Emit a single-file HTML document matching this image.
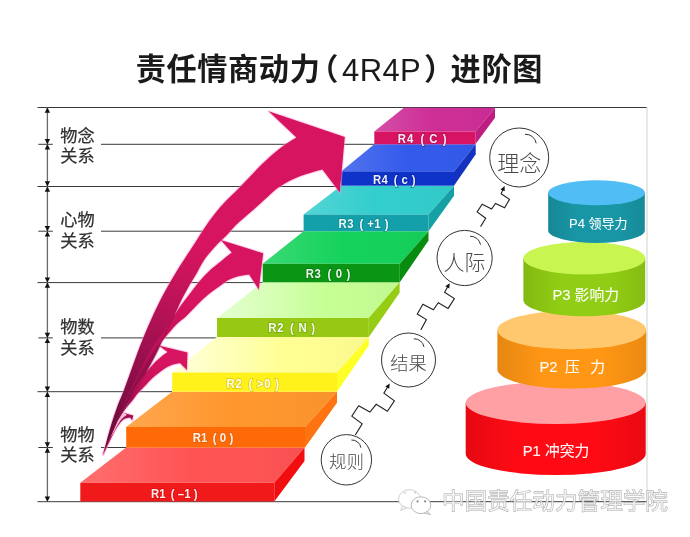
<!DOCTYPE html>
<html lang="zh-CN">
<head>
<meta charset="utf-8">
<title>责任情商动力（4R4P）进阶图</title>
<style>
html,body{margin:0;padding:0;background:#fff;}
body{width:690px;height:537px;overflow:hidden;font-family:'Liberation Sans','Noto Sans CJK SC',sans-serif;}
svg{display:block;will-change:transform;}
svg text{font-family:'Liberation Sans','Noto Sans CJK SC',sans-serif;}
</style>
</head>
<body>
<svg width="690" height="537" viewBox="0 0 690 537">
<rect width="690" height="537" fill="#fff"/>
<defs>
<linearGradient id="ag1" gradientUnits="userSpaceOnUse" x1="103" y1="455" x2="215" y2="215">
<stop offset="0" stop-color="#5e0a34"/><stop offset="0.3" stop-color="#8a0e49"/><stop offset="0.6" stop-color="#b81257"/><stop offset="0.85" stop-color="#d6145f"/><stop offset="1" stop-color="#d6145f"/>
</linearGradient>
<linearGradient id="ag2" gradientUnits="userSpaceOnUse" x1="103" y1="455" x2="200" y2="285">
<stop offset="0" stop-color="#5e0a34"/><stop offset="0.3" stop-color="#8e0f4b"/><stop offset="0.65" stop-color="#c01258"/><stop offset="0.9" stop-color="#d6145f"/><stop offset="1" stop-color="#d6145f"/>
</linearGradient>
<linearGradient id="ag3" gradientUnits="userSpaceOnUse" x1="103" y1="455" x2="160" y2="362">
<stop offset="0" stop-color="#5e0a34"/><stop offset="0.35" stop-color="#8e0f4b"/><stop offset="0.75" stop-color="#c41359"/><stop offset="1" stop-color="#d6145f"/>
</linearGradient>
<linearGradient id="tg3" gradientUnits="userSpaceOnUse" x1="185" y1="0" x2="290" y2="0">
<stop offset="0" stop-color="#ffffcc"/><stop offset="1" stop-color="#ffff92"/>
</linearGradient>
<linearGradient id="tg4" gradientUnits="userSpaceOnUse" x1="230" y1="0" x2="330" y2="0">
<stop offset="0" stop-color="#dcffc2"/><stop offset="1" stop-color="#c6ff94"/>
</linearGradient>
<linearGradient id="wl" x1="0" y1="0" x2="1" y2="0">
<stop offset="0" stop-color="#fff" stop-opacity="0.16"/><stop offset="0.5" stop-color="#fff" stop-opacity="0"/><stop offset="1" stop-color="#000" stop-opacity="0.03"/>
</linearGradient>
<linearGradient id="cg" x1="0" y1="0" x2="1" y2="0">
<stop offset="0" stop-color="#000" stop-opacity="0.10"/><stop offset="0.3" stop-color="#000" stop-opacity="0"/><stop offset="0.7" stop-color="#000" stop-opacity="0"/><stop offset="1" stop-color="#000" stop-opacity="0.08"/>
</linearGradient>
</defs>
<line x1="37.5" y1="107.5" x2="647" y2="107.5" stroke="#3a3a3a" stroke-width="1"/>
<line x1="37.5" y1="186.5" x2="341.1" y2="186.5" stroke="#3a3a3a" stroke-width="1"/>
<line x1="37.5" y1="282.6" x2="262.7" y2="282.6" stroke="#3a3a3a" stroke-width="1"/>
<line x1="37.5" y1="391.7" x2="172.2" y2="391.7" stroke="#3a3a3a" stroke-width="1"/>
<line x1="37.5" y1="501.7" x2="647" y2="501.7" stroke="#3a3a3a" stroke-width="1"/>
<line x1="101" y1="144.3" x2="374.3" y2="144.3" stroke="#3a3a3a" stroke-width="1"/>
<line x1="38.3" y1="144.3" x2="52.8" y2="144.3" stroke="#3a3a3a" stroke-width="1"/>
<line x1="101" y1="231.2" x2="303.6" y2="231.2" stroke="#3a3a3a" stroke-width="1"/>
<line x1="38.3" y1="231.2" x2="52.8" y2="231.2" stroke="#3a3a3a" stroke-width="1"/>
<line x1="101" y1="337.9" x2="217" y2="337.9" stroke="#3a3a3a" stroke-width="1"/>
<line x1="38.3" y1="337.9" x2="52.8" y2="337.9" stroke="#3a3a3a" stroke-width="1"/>
<line x1="101" y1="447.5" x2="126.2" y2="447.5" stroke="#3a3a3a" stroke-width="1"/>
<line x1="38.3" y1="447.5" x2="52.8" y2="447.5" stroke="#3a3a3a" stroke-width="1"/>
<line x1="647" y1="107" x2="647" y2="502" stroke="#c9d6c4" stroke-width="1"/>
<line x1="47.4" y1="107.5" x2="47.4" y2="501.7" stroke="#6a6a6a" stroke-width="1.3"/>
<polygon points="47.4,107.5 44.699999999999996,112.7 50.1,112.7" fill="#111"/>
<polygon points="47.4,144.3 44.699999999999996,139.10000000000002 50.1,139.10000000000002" fill="#111"/>
<polygon points="47.4,144.3 44.699999999999996,149.5 50.1,149.5" fill="#111"/>
<polygon points="47.4,186.5 44.699999999999996,181.3 50.1,181.3" fill="#111"/>
<polygon points="47.4,186.5 44.699999999999996,191.7 50.1,191.7" fill="#111"/>
<polygon points="47.4,231.2 44.699999999999996,226.0 50.1,226.0" fill="#111"/>
<polygon points="47.4,231.2 44.699999999999996,236.39999999999998 50.1,236.39999999999998" fill="#111"/>
<polygon points="47.4,282.6 44.699999999999996,277.40000000000003 50.1,277.40000000000003" fill="#111"/>
<polygon points="47.4,282.6 44.699999999999996,287.8 50.1,287.8" fill="#111"/>
<polygon points="47.4,337.9 44.699999999999996,332.7 50.1,332.7" fill="#111"/>
<polygon points="47.4,337.9 44.699999999999996,343.09999999999997 50.1,343.09999999999997" fill="#111"/>
<polygon points="47.4,391.7 44.699999999999996,386.5 50.1,386.5" fill="#111"/>
<polygon points="47.4,391.7 44.699999999999996,396.9 50.1,396.9" fill="#111"/>
<polygon points="47.4,447.5 44.699999999999996,442.3 50.1,442.3" fill="#111"/>
<polygon points="47.4,447.5 44.699999999999996,452.7 50.1,452.7" fill="#111"/>
<polygon points="47.4,501.7 44.699999999999996,496.5 50.1,496.5" fill="#111"/>
<polygon points="80.3,482.8 126.2,447.6 304.5,447.6 274.3,482.8" fill="#ff5353"/>
<polygon points="80.3,482.8 126.2,447.6 304.5,447.6 274.3,482.8" fill="url(#wl)"/>
<polygon points="274.3,482.8 304.5,447.6 304.5,461.1 274.3,501.5" fill="#f20d10"/>
<rect x="80.3" y="482.8" width="194.0" height="18.7" fill="#f01a1a"/>
<polygon points="126.2,427.0 172.2,391.7 337.0,391.7 305.0,427.0" fill="#ff962d"/>
<polygon points="126.2,427.0 172.2,391.7 337.0,391.7 305.0,427.0" fill="url(#wl)"/>
<polygon points="305.0,427.0 337.0,391.7 337.0,402.7 305.0,447.6" fill="#ff7410"/>
<rect x="126.2" y="427.0" width="178.8" height="20.6" fill="#ff6a08"/>
<polygon points="172.2,372.5 217.0,337.0 368.8,337.0 337.0,372.5" fill="url(#tg3)"/>
<polygon points="172.2,372.5 217.0,337.0 368.8,337.0 337.0,372.5" fill="url(#wl)"/>
<polygon points="337.0,372.5 368.8,337.0 368.8,345.5 337.0,391.7" fill="#ffff28"/>
<rect x="172.2" y="372.5" width="164.8" height="19.2" fill="#fff21a"/>
<polygon points="217.0,318.0 262.7,282.3 399.6,282.3 368.8,318.0" fill="url(#tg4)"/>
<polygon points="217.0,318.0 262.7,282.3 399.6,282.3 368.8,318.0" fill="url(#wl)"/>
<polygon points="368.8,318.0 399.6,282.3 399.6,292.7 368.8,337.0" fill="#96cd14"/>
<rect x="217.0" y="318.0" width="151.8" height="19.0" fill="#96c814"/>
<polygon points="262.7,263.8 303.6,231.2 428.5,231.2 399.8,263.8" fill="#14d25a"/>
<polygon points="262.7,263.8 303.6,231.2 428.5,231.2 399.8,263.8" fill="url(#wl)"/>
<polygon points="399.8,263.8 428.5,231.2 428.5,240.5 399.8,282.3" fill="#088c10"/>
<rect x="262.7" y="263.8" width="137.1" height="18.5" fill="#0a9614"/>
<polygon points="303.6,214.5 341.1,185.7 454.0,185.7 428.5,214.5" fill="#32cdcd"/>
<polygon points="303.6,214.5 341.1,185.7 454.0,185.7 428.5,214.5" fill="url(#wl)"/>
<polygon points="428.5,214.5 454.0,185.7 454.0,195.7 428.5,231.2" fill="#14a0a5"/>
<rect x="303.6" y="214.5" width="124.9" height="16.7" fill="#14a0aa"/>
<polygon points="341.1,171.4 374.3,144.3 475.7,144.3 454.0,171.4" fill="#325aeb"/>
<polygon points="341.1,171.4 374.3,144.3 475.7,144.3 454.0,171.4" fill="url(#wl)"/>
<polygon points="454.0,171.4 475.7,144.3 475.7,154.3 454.0,185.7" fill="#1432be"/>
<rect x="341.1" y="171.4" width="112.9" height="14.3" fill="#0f32c8"/>
<polygon points="374.3,131.5 403.9,107.8 495.0,107.8 475.4,131.5" fill="#cd2d96"/>
<polygon points="374.3,131.5 403.9,107.8 495.0,107.8 475.4,131.5" fill="url(#wl)"/>
<polygon points="475.4,131.5 495.0,107.8 495.0,117.8 475.4,144.3" fill="#be1e82"/>
<rect x="374.3" y="131.5" width="101.1" height="12.8" fill="#d71464"/>
<text transform="translate(150.9,497.8) scale(1,1.13)" textLength="46.7" lengthAdjust="spacing" font-size="11.4" font-weight="bold" fill="#fff" fill-opacity="0.93" stroke="#c80000" stroke-opacity="0.35" stroke-width="1.6" paint-order="stroke">R1<tspan dx="2"> ( –1 )</tspan></text>
<text transform="translate(192.7,442.1) scale(1,1.13)" textLength="40.6" lengthAdjust="spacing" font-size="11.4" font-weight="bold" fill="#fff" fill-opacity="0.93" stroke="#c85000" stroke-opacity="0.35" stroke-width="1.6" paint-order="stroke">R1<tspan dx="2"> ( 0 )</tspan></text>
<text transform="translate(226.6,387.6) scale(1,1.13)" textLength="52.4" lengthAdjust="spacing" font-size="11.4" font-weight="bold" fill="#fff" fill-opacity="0.93" stroke="#b09000" stroke-opacity="0.35" stroke-width="1.6" paint-order="stroke">R2<tspan dx="2"> ( &gt;0 )</tspan></text>
<text transform="translate(268.3,332.2) scale(1,1.13)" textLength="46.7" lengthAdjust="spacing" font-size="11.4" font-weight="bold" fill="#fff" fill-opacity="0.93" stroke="#5a8000" stroke-opacity="0.35" stroke-width="1.6" paint-order="stroke">R2<tspan dx="2"> ( N )</tspan></text>
<text transform="translate(305.7,278.2) scale(1,1.13)" textLength="44.6" lengthAdjust="spacing" font-size="11.4" font-weight="bold" fill="#fff" fill-opacity="0.93" stroke="#005a00" stroke-opacity="0.35" stroke-width="1.6" paint-order="stroke">R3<tspan dx="2"> ( 0 )</tspan></text>
<text transform="translate(338.5,227.6) scale(1,1.13)" textLength="50.0" lengthAdjust="spacing" font-size="11.4" font-weight="bold" fill="#fff" fill-opacity="0.93" stroke="#006a70" stroke-opacity="0.35" stroke-width="1.6" paint-order="stroke">R3<tspan dx="2"> ( +1 )</tspan></text>
<text transform="translate(372.9,183.9) scale(1,1.13)" textLength="42.6" lengthAdjust="spacing" font-size="11.4" font-weight="bold" fill="#fff" fill-opacity="0.93" stroke="#001080" stroke-opacity="0.35" stroke-width="1.6" paint-order="stroke">R4<tspan dx="2"> ( c )</tspan></text>
<text transform="translate(397.7,142.7) scale(1,1.13)" textLength="48.8" lengthAdjust="spacing" font-size="11.4" font-weight="bold" fill="#fff" fill-opacity="0.93" stroke="#80003a" stroke-opacity="0.35" stroke-width="1.6" paint-order="stroke">R4<tspan dx="2"> ( C )</tspan></text>
<path d="M103.2,454.3 C104.0,451.4 106.1,443.0 107.7,437.1 C109.3,431.2 111.2,424.5 113.0,419.0 C114.8,413.5 116.5,408.6 118.2,404.0 C119.9,399.4 121.2,397.0 123.3,391.7 C125.3,386.4 128.2,378.3 130.5,372.0 C132.8,365.7 134.9,359.7 137.0,354.0 C139.1,348.3 140.8,343.8 143.2,337.9 C145.6,332.0 148.9,324.6 151.5,318.8 C154.1,313.0 156.4,308.0 159.0,302.8 C161.6,297.6 164.1,293.0 167.0,287.8 C169.9,282.6 172.9,277.3 176.2,271.9 C179.5,266.4 183.5,260.6 187.0,255.1 C190.5,249.7 194.7,243.2 197.3,239.2 C199.9,235.2 200.0,234.7 202.4,231.2 C204.8,227.7 208.0,222.6 211.5,218.0 C215.0,213.4 218.7,208.8 223.5,203.6 C228.3,198.3 234.2,193.0 240.5,186.5 C246.8,180.0 255.0,170.9 261.5,164.6 C268.0,158.3 273.7,153.2 279.5,148.7 C285.3,144.2 293.6,139.4 296.4,137.6 L268.6,111.2 L344.8,137.0 L339.8,192.6 L322.4,169.6 L322.4,169.6 C318.7,170.7 307.1,173.5 300.0,176.3 C292.9,179.1 285.5,183.0 280.0,186.5 C274.5,190.0 271.7,193.3 267.0,197.4 C262.3,201.5 257.2,206.4 252.0,211.0 C246.8,215.6 240.2,220.9 236.0,225.0 C231.8,229.1 229.9,232.1 226.5,235.6 C223.1,239.1 219.2,242.2 215.5,246.2 C211.8,250.2 207.8,254.8 204.5,259.5 C201.2,264.2 198.7,269.9 196.0,274.5 C193.3,279.1 191.0,282.5 188.5,286.9 C186.0,291.3 183.3,296.4 181.0,301.1 C178.7,305.8 177.0,310.1 174.5,315.2 C172.0,320.3 169.1,325.5 166.0,332.0 C162.9,338.5 159.7,346.7 156.0,354.0 C152.3,361.3 148.2,368.7 144.0,376.0 C139.8,383.3 135.2,391.0 131.0,398.0 C126.8,405.0 122.3,411.8 119.0,418.0 C115.7,424.2 113.6,428.9 111.0,435.0 C108.4,441.1 104.5,451.1 103.2,454.3 Z" fill="none" stroke="#ff9ad0" stroke-opacity="0.45" stroke-width="2.2" stroke-linejoin="round"/>
<path d="M103.2,454.3 C104.7,450.4 108.9,438.9 112.0,431.0 C115.1,423.1 118.2,415.5 122.0,407.0 C125.8,398.5 130.3,389.3 135.0,380.0 C139.7,370.7 145.5,358.7 150.0,351.0 C154.5,343.3 158.3,339.4 162.0,334.0 C165.7,328.6 168.8,323.7 172.0,318.8 C175.2,313.9 178.3,309.0 181.5,304.6 C184.7,300.2 187.9,296.2 191.0,292.2 C194.1,288.2 196.7,284.5 200.0,280.7 C203.3,276.9 207.3,272.6 211.0,269.2 C214.7,265.8 218.6,263.2 222.0,260.4 C225.4,257.6 230.1,253.7 231.7,252.4 L220.8,240.0 L263.2,253.3 L258.8,289.6 L249.1,274.5 L249.1,274.5 C247.3,274.8 241.8,275.4 238.5,276.3 C235.2,277.2 232.1,278.2 229.0,279.8 C225.9,281.4 223.3,283.6 220.0,286.0 C216.7,288.4 212.8,290.9 209.0,294.0 C205.2,297.1 201.2,300.9 197.5,304.6 C193.8,308.3 189.8,312.9 186.5,316.0 C183.2,319.1 179.9,321.2 177.5,323.5 C175.1,325.8 174.0,327.1 171.9,329.5 C169.8,331.9 167.0,335.2 164.8,337.9 C162.6,340.5 161.2,341.7 158.6,345.4 C156.0,349.1 152.5,354.1 149.0,360.0 C145.5,365.9 141.3,373.7 137.5,381.0 C133.7,388.3 129.2,397.5 126.0,404.0 C122.8,410.5 120.6,414.5 118.0,420.0 C115.4,425.5 113.0,431.3 110.5,437.0 C108.0,442.7 104.4,451.4 103.2,454.3 Z" fill="none" stroke="#ff9ad0" stroke-opacity="0.45" stroke-width="2.2" stroke-linejoin="round"/>
<path d="M103.2,454.3 C104.3,451.4 107.5,442.9 110.0,437.0 C112.5,431.1 115.0,424.5 118.0,419.0 C121.0,413.5 125.2,408.4 127.7,403.8 C130.2,399.2 131.1,395.2 133.0,391.4 C134.9,387.6 137.0,384.6 139.3,381.2 C141.6,377.8 144.4,374.2 146.8,371.2 C149.2,368.2 151.6,365.7 153.8,363.4 C156.1,361.1 158.0,359.3 160.3,357.4 C162.6,355.5 166.3,353.0 167.5,352.1 L158.6,345.4 L187.5,352.5 L186.9,370.1 L179.9,363.1 L179.9,363.1 C178.3,363.5 173.2,364.4 170.1,365.7 C167.0,367.0 164.2,368.9 161.3,371.0 C158.4,373.1 155.2,375.6 152.5,378.1 C149.8,380.6 147.4,383.5 145.0,386.0 C142.6,388.5 140.3,390.6 138.2,393.0 C136.1,395.4 134.4,398.2 132.5,400.5 C130.6,402.8 128.8,404.8 127.0,407.0 C125.2,409.2 123.6,411.2 122.0,413.5 C120.4,415.8 118.9,418.2 117.5,421.0 C116.1,423.8 114.9,426.8 113.5,430.0 C112.1,433.2 110.7,435.9 109.0,440.0 C107.3,444.1 104.2,451.9 103.2,454.3 Z" fill="none" stroke="#ff9ad0" stroke-opacity="0.45" stroke-width="2.2" stroke-linejoin="round"/>
<path d="M103.2,454.3 C104.0,452.2 106.3,445.6 108.0,442.0 C109.7,438.4 111.9,435.4 113.6,432.4 C115.3,429.4 116.6,426.4 118.1,424.0 C119.6,421.6 121.1,419.6 122.6,418.1 C124.1,416.6 126.3,415.4 127.0,414.8 L123.3,412.8 L133.2,415.5 L132.2,420.3 L130.0,417.4 L130.0,417.4 C129.1,417.6 126.5,417.8 124.8,418.8 C123.1,419.8 121.5,421.1 119.8,423.2 C118.1,425.3 116.5,428.1 114.6,431.4 C112.7,434.7 110.5,439.4 108.6,443.2 C106.7,447.0 104.1,452.4 103.2,454.3 Z" fill="none" stroke="#ff9ad0" stroke-opacity="0.45" stroke-width="2.2" stroke-linejoin="round"/>
<path d="M103.2,454.3 C104.0,451.4 106.1,443.0 107.7,437.1 C109.3,431.2 111.2,424.5 113.0,419.0 C114.8,413.5 116.5,408.6 118.2,404.0 C119.9,399.4 121.2,397.0 123.3,391.7 C125.3,386.4 128.2,378.3 130.5,372.0 C132.8,365.7 134.9,359.7 137.0,354.0 C139.1,348.3 140.8,343.8 143.2,337.9 C145.6,332.0 148.9,324.6 151.5,318.8 C154.1,313.0 156.4,308.0 159.0,302.8 C161.6,297.6 164.1,293.0 167.0,287.8 C169.9,282.6 172.9,277.3 176.2,271.9 C179.5,266.4 183.5,260.6 187.0,255.1 C190.5,249.7 194.7,243.2 197.3,239.2 C199.9,235.2 200.0,234.7 202.4,231.2 C204.8,227.7 208.0,222.6 211.5,218.0 C215.0,213.4 218.7,208.8 223.5,203.6 C228.3,198.3 234.2,193.0 240.5,186.5 C246.8,180.0 255.0,170.9 261.5,164.6 C268.0,158.3 273.7,153.2 279.5,148.7 C285.3,144.2 293.6,139.4 296.4,137.6 L268.6,111.2 L344.8,137.0 L339.8,192.6 L322.4,169.6 L322.4,169.6 C318.7,170.7 307.1,173.5 300.0,176.3 C292.9,179.1 285.5,183.0 280.0,186.5 C274.5,190.0 271.7,193.3 267.0,197.4 C262.3,201.5 257.2,206.4 252.0,211.0 C246.8,215.6 240.2,220.9 236.0,225.0 C231.8,229.1 229.9,232.1 226.5,235.6 C223.1,239.1 219.2,242.2 215.5,246.2 C211.8,250.2 207.8,254.8 204.5,259.5 C201.2,264.2 198.7,269.9 196.0,274.5 C193.3,279.1 191.0,282.5 188.5,286.9 C186.0,291.3 183.3,296.4 181.0,301.1 C178.7,305.8 177.0,310.1 174.5,315.2 C172.0,320.3 169.1,325.5 166.0,332.0 C162.9,338.5 159.7,346.7 156.0,354.0 C152.3,361.3 148.2,368.7 144.0,376.0 C139.8,383.3 135.2,391.0 131.0,398.0 C126.8,405.0 122.3,411.8 119.0,418.0 C115.7,424.2 113.6,428.9 111.0,435.0 C108.4,441.1 104.5,451.1 103.2,454.3 Z" fill="url(#ag1)"/>
<path d="M103.2,454.3 C104.7,450.4 108.9,438.9 112.0,431.0 C115.1,423.1 118.2,415.5 122.0,407.0 C125.8,398.5 130.3,389.3 135.0,380.0 C139.7,370.7 145.5,358.7 150.0,351.0 C154.5,343.3 158.3,339.4 162.0,334.0 C165.7,328.6 168.8,323.7 172.0,318.8 C175.2,313.9 178.3,309.0 181.5,304.6 C184.7,300.2 187.9,296.2 191.0,292.2 C194.1,288.2 196.7,284.5 200.0,280.7 C203.3,276.9 207.3,272.6 211.0,269.2 C214.7,265.8 218.6,263.2 222.0,260.4 C225.4,257.6 230.1,253.7 231.7,252.4 L220.8,240.0 L263.2,253.3 L258.8,289.6 L249.1,274.5 L249.1,274.5 C247.3,274.8 241.8,275.4 238.5,276.3 C235.2,277.2 232.1,278.2 229.0,279.8 C225.9,281.4 223.3,283.6 220.0,286.0 C216.7,288.4 212.8,290.9 209.0,294.0 C205.2,297.1 201.2,300.9 197.5,304.6 C193.8,308.3 189.8,312.9 186.5,316.0 C183.2,319.1 179.9,321.2 177.5,323.5 C175.1,325.8 174.0,327.1 171.9,329.5 C169.8,331.9 167.0,335.2 164.8,337.9 C162.6,340.5 161.2,341.7 158.6,345.4 C156.0,349.1 152.5,354.1 149.0,360.0 C145.5,365.9 141.3,373.7 137.5,381.0 C133.7,388.3 129.2,397.5 126.0,404.0 C122.8,410.5 120.6,414.5 118.0,420.0 C115.4,425.5 113.0,431.3 110.5,437.0 C108.0,442.7 104.4,451.4 103.2,454.3 Z" fill="url(#ag2)"/>
<path d="M103.2,454.3 C104.3,451.4 107.5,442.9 110.0,437.0 C112.5,431.1 115.0,424.5 118.0,419.0 C121.0,413.5 125.2,408.4 127.7,403.8 C130.2,399.2 131.1,395.2 133.0,391.4 C134.9,387.6 137.0,384.6 139.3,381.2 C141.6,377.8 144.4,374.2 146.8,371.2 C149.2,368.2 151.6,365.7 153.8,363.4 C156.1,361.1 158.0,359.3 160.3,357.4 C162.6,355.5 166.3,353.0 167.5,352.1 L158.6,345.4 L187.5,352.5 L186.9,370.1 L179.9,363.1 L179.9,363.1 C178.3,363.5 173.2,364.4 170.1,365.7 C167.0,367.0 164.2,368.9 161.3,371.0 C158.4,373.1 155.2,375.6 152.5,378.1 C149.8,380.6 147.4,383.5 145.0,386.0 C142.6,388.5 140.3,390.6 138.2,393.0 C136.1,395.4 134.4,398.2 132.5,400.5 C130.6,402.8 128.8,404.8 127.0,407.0 C125.2,409.2 123.6,411.2 122.0,413.5 C120.4,415.8 118.9,418.2 117.5,421.0 C116.1,423.8 114.9,426.8 113.5,430.0 C112.1,433.2 110.7,435.9 109.0,440.0 C107.3,444.1 104.2,451.9 103.2,454.3 Z" fill="url(#ag3)"/>
<path d="M103.2,454.3 C104.0,452.2 106.3,445.6 108.0,442.0 C109.7,438.4 111.9,435.4 113.6,432.4 C115.3,429.4 116.6,426.4 118.1,424.0 C119.6,421.6 121.1,419.6 122.6,418.1 C124.1,416.6 126.3,415.4 127.0,414.8 L123.3,412.8 L133.2,415.5 L132.2,420.3 L130.0,417.4 L130.0,417.4 C129.1,417.6 126.5,417.8 124.8,418.8 C123.1,419.8 121.5,421.1 119.8,423.2 C118.1,425.3 116.5,428.1 114.6,431.4 C112.7,434.7 110.5,439.4 108.6,443.2 C106.7,447.0 104.1,452.4 103.2,454.3 Z" fill="#a01050"/>
<path d="M122.4,414 L126.2,415 L122.2,417.6 L118.4,422.4 L116.2,425 L118.6,419.4 Z" fill="#f3b6d3"/>
<path d="M174.5,315.2 C173.1,318.0 169.1,325.5 166.0,332.0 C162.9,338.5 159.7,346.7 156.0,354.0 C152.3,361.3 148.2,368.7 144.0,376.0 C139.8,383.3 135.2,391.0 131.0,398.0 C126.8,405.0 121.0,414.7 119.0,418.0" fill="none" stroke="#7d0d44" stroke-opacity="0.35" stroke-width="1.4"/>
<path d="M158.6,345.4 C157.0,347.8 152.5,354.1 149.0,360.0 C145.5,365.9 141.3,373.7 137.5,381.0 C133.7,388.3 129.2,397.5 126.0,404.0 C122.8,410.5 119.3,417.3 118.0,420.0" fill="none" stroke="#7d0d44" stroke-opacity="0.3" stroke-width="1.2"/>
<circle cx="346.4" cy="459.8" r="25.2" fill="#fff" stroke="#333" stroke-width="1"/>
<path d="M351.4,440.0 A9.1,9.1 0 0 1 360.9,447.7" fill="none" stroke="#333" stroke-width="1"/>
<text x="346.4" y="467.8" text-anchor="middle" font-size="17.5" font-weight="300" fill="#4a4a4a">规则</text>
<circle cx="408.5" cy="360" r="27" fill="#fff" stroke="#333" stroke-width="1"/>
<path d="M413.8,338.8 A9.8,9.8 0 0 1 424.0,347.0" fill="none" stroke="#333" stroke-width="1"/>
<text x="408.5" y="369.8" text-anchor="middle" font-size="18.3" font-weight="300" fill="#4a4a4a">结果</text>
<circle cx="464.6" cy="258" r="27.6" fill="#fff" stroke="#333" stroke-width="1"/>
<path d="M470.1,236.3 A10.0,10.0 0 0 1 480.5,244.7" fill="none" stroke="#333" stroke-width="1"/>
<text x="464.6" y="270.2" text-anchor="middle" font-size="21" font-weight="300" fill="#4a4a4a">人际</text>
<circle cx="519.2" cy="157.5" r="29.5" fill="#fff" stroke="#333" stroke-width="1"/>
<path d="M525.0,134.3 A10.7,10.7 0 0 1 536.2,143.3" fill="none" stroke="#333" stroke-width="1"/>
<text x="519.2" y="171" text-anchor="middle" font-size="22" font-weight="300" fill="#4a4a4a">理念</text>
<polyline points="355.3,435.0 362.2,423.9 351.8,416.2 358.7,405.7 369.9,412.0 376.2,404.3 387.4,411.3 394.4,400.8 383.9,393.2 388.6,385.3" fill="none" stroke="#222" stroke-width="1.1" stroke-linejoin="miter"/>
<polygon points="389.7,383.4 389.2,388.7 385.3,386.4" fill="#111"/>
<polyline points="420.8,330.0 426.4,319.6 417.3,314.0 422.9,304.2 433.4,309.8 438.3,302.8 448.1,308.4 454.4,298.6 444.6,292.3 448.6,285.2" fill="none" stroke="#222" stroke-width="1.1" stroke-linejoin="miter"/>
<polygon points="449.7,283.3 449.3,288.6 445.3,286.3" fill="#111"/>
<polyline points="480.6,226.6 485.7,218.2 477.1,211.9 482.2,204.2 491.6,209.1 495.5,203.5 504.6,207.7 509.5,199.3 501.1,193.7 503.7,188.0" fill="none" stroke="#222" stroke-width="1.1" stroke-linejoin="miter"/>
<polygon points="504.6,186.0 504.7,191.3 500.5,189.4" fill="#111"/>
<path d="M465.70000000000005,402.8 L465.70000000000005,453.8 A90,21.2 0 0 0 645.7,453.8 L645.7,402.8 Z" fill="#ff0a14"/>
<path d="M465.70000000000005,402.8 L465.70000000000005,453.8 A90,21.2 0 0 0 645.7,453.8 L645.7,402.8 Z" fill="url(#cg)"/>
<ellipse cx="555.7" cy="402.8" rx="90" ry="21.2" fill="#ffa0a5"/>
<text x="556" y="456.3" text-anchor="middle" font-size="14.8" fill="#fff" fill-opacity="0.95" stroke="#fff" stroke-width="0.12">P1 冲突力</text>
<path d="M497.4,330 L497.4,369.3 A74.4,19.3 0 0 0 646.1999999999999,369.3 L646.1999999999999,330 Z" fill="#ff9614"/>
<path d="M497.4,330 L497.4,369.3 A74.4,19.3 0 0 0 646.1999999999999,369.3 L646.1999999999999,330 Z" fill="url(#cg)"/>
<ellipse cx="571.8" cy="330" rx="74.4" ry="19.3" fill="#ffc86e"/>
<text y="372.1" font-size="14.8" fill="#fff" fill-opacity="0.95" stroke="#fff" stroke-width="0.12"><tspan x="539.5">P2</tspan><tspan x="565">压</tspan><tspan x="590.3">力</tspan></text>
<path d="M523.4,258.2 L523.4,300 A60.9,16.2 0 0 0 645.1999999999999,300 L645.1999999999999,258.2 Z" fill="#91cd14"/>
<path d="M523.4,258.2 L523.4,300 A60.9,16.2 0 0 0 645.1999999999999,300 L645.1999999999999,258.2 Z" fill="url(#cg)"/>
<ellipse cx="584.3" cy="258.2" rx="60.9" ry="16.2" fill="#c8f550"/>
<text x="585.7" y="300.2" text-anchor="middle" font-size="14.8" fill="#fff" fill-opacity="0.95" stroke="#fff" stroke-width="0.12">P3 影响力</text>
<path d="M548.2,192.8 L548.2,230.4 A48.3,12.5 0 0 0 644.8,230.4 L644.8,192.8 Z" fill="#1996a5"/>
<path d="M548.2,192.8 L548.2,230.4 A48.3,12.5 0 0 0 644.8,230.4 L644.8,192.8 Z" fill="url(#cg)"/>
<ellipse cx="596.5" cy="192.8" rx="48.3" ry="12.5" fill="#50bef5"/>
<text x="598.3" y="228" text-anchor="middle" font-size="13" fill="#fff" fill-opacity="0.95" stroke="#fff" stroke-width="0.12">P4 领导力</text>
<text x="60.2" y="142.2" font-size="17.2" fill="#303030" stroke="#303030" stroke-width="0.25">物念</text>
<text x="60.2" y="162.2" font-size="17.2" fill="#303030" stroke="#303030" stroke-width="0.25">关系</text>
<text x="60.2" y="226.2" font-size="17.2" fill="#303030" stroke="#303030" stroke-width="0.25">心物</text>
<text x="60.2" y="247" font-size="17.2" fill="#303030" stroke="#303030" stroke-width="0.25">关系</text>
<text x="60.2" y="333" font-size="17.2" fill="#303030" stroke="#303030" stroke-width="0.25">物数</text>
<text x="60.2" y="354" font-size="17.2" fill="#303030" stroke="#303030" stroke-width="0.25">关系</text>
<text x="60.2" y="441" font-size="17.2" fill="#303030" stroke="#303030" stroke-width="0.25">物物</text>
<text x="60.2" y="461" font-size="17.2" fill="#303030" stroke="#303030" stroke-width="0.25">关系</text>
<text y="80" font-size="30.2" font-weight="bold" fill="#1a1a1a" letter-spacing="0.6"><tspan x="135.7">责任情商动力</tspan><tspan x="308.3">（</tspan><tspan x="424">）</tspan><tspan x="450.6">进阶图</tspan></text>
<text x="342" y="80.5" font-size="31" fill="#1a1a1a" letter-spacing="0.4">4R4P</text>
<g fill="#fff" stroke="#cfcfcf" stroke-width="1"><ellipse cx="409.5" cy="499" rx="11" ry="9.3"/><path d="M403,506 L400.5,510.5 L406.5,507.8 Z"/><ellipse cx="421" cy="505.2" rx="9.8" ry="8.4" stroke="#b9b9b9"/><path d="M427,511.5 L430.5,514.5 L424.5,513 Z" stroke="#b9b9b9"/></g>
<g fill="#8a8a8a"><circle cx="405" cy="492.8" r="0.9" fill="#c4c4c4"/><circle cx="415" cy="492.6" r="0.9" fill="#c4c4c4"/><circle cx="417.6" cy="501.4" r="1.1"/><circle cx="425.1" cy="501.4" r="1.1"/></g>
<text x="442" y="509" font-size="22.6" fill="#fff" fill-opacity="0.6" stroke="#a9a9a9" stroke-width="0.85" paint-order="stroke">中国责任动力管理学院</text>
</svg>
</body>
</html>
